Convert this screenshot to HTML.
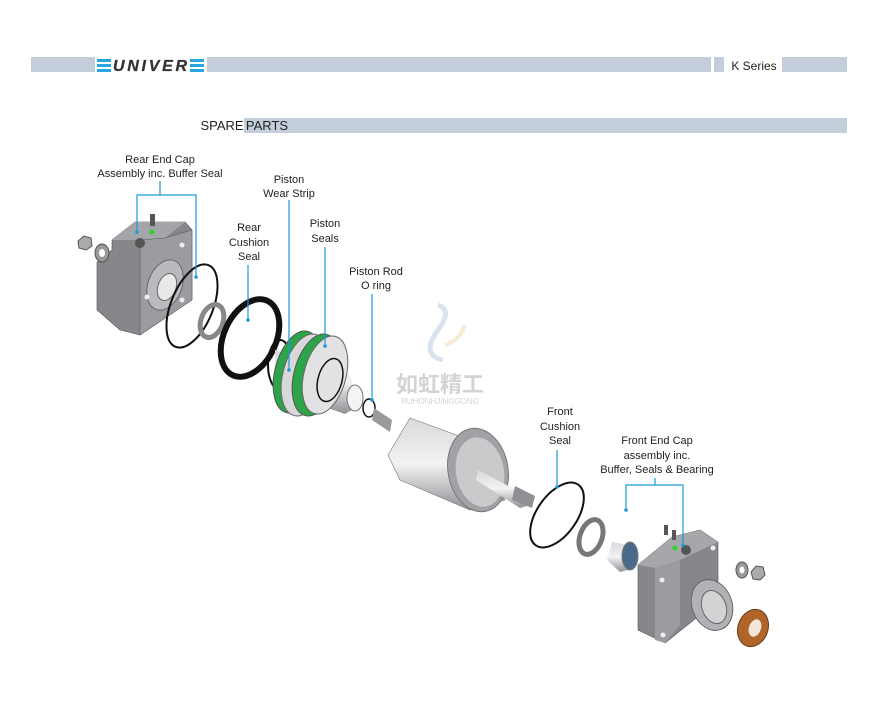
<!DOCTYPE html>
<html><head><meta charset="utf-8">
<style>
html,body{margin:0;padding:0;background:#fff;}
body{width:876px;height:702px;position:relative;overflow:hidden;font-family:"Liberation Sans","Noto Sans CJK SC",sans-serif;}
svg text{font-family:"Liberation Sans","Noto Sans CJK SC",sans-serif;font-size:11px;fill:#222;text-anchor:middle;}
</style></head><body>
<svg width="876" height="702" viewBox="0 0 876 702" xmlns="http://www.w3.org/2000/svg">
<defs>
<linearGradient id="met" x1="0" y1="0" x2="0" y2="1"><stop offset="0" stop-color="#d8d9db"/><stop offset="0.5" stop-color="#f2f2f3"/><stop offset="1" stop-color="#8e9093"/></linearGradient>
</defs>
<rect x="31" y="57" width="64" height="15" fill="#c3ceda"/>
<rect x="207" y="57" width="504" height="15" fill="#c3ceda"/>
<rect x="714" y="57" width="10" height="15" fill="#c3ceda"/>
<rect x="782" y="57" width="65" height="15" fill="#c3ceda"/>
<rect x="97" y="59" width="14" height="3" fill="#29a6e0"/><rect x="97" y="64" width="14" height="3" fill="#29a6e0"/><rect x="97" y="69" width="14" height="3" fill="#29a6e0"/>
<rect x="190" y="59" width="14" height="3" fill="#29a6e0"/><rect x="190" y="64" width="14" height="3" fill="#29a6e0"/><rect x="190" y="69" width="14" height="3" fill="#29a6e0"/>
<text x="150" y="71" style="font-size:16px;font-weight:bold;font-style:italic;fill:#333;stroke:#333;stroke-width:0.3" textLength="74">UNIVER</text>
<text x="754" y="70" style="font-size:12px">K Series</text>
<rect x="244" y="118" width="603" height="15" fill="#c3ceda"/>
<text x="222" y="130" style="font-size:13px">SPARE</text>
<text x="267" y="130" style="font-size:13px">PARTS</text>

<text x="160" y="163">Rear End Cap</text>
<text x="160" y="177">Assembly inc. Buffer Seal</text>
<text x="289" y="183">Piston</text><text x="289" y="197">Wear Strip</text>
<text x="249" y="231">Rear</text><text x="249" y="246">Cushion</text><text x="249" y="260">Seal</text>
<text x="325" y="227">Piston</text><text x="325" y="242">Seals</text>
<text x="376" y="275">Piston Rod</text><text x="376" y="289">O ring</text>
<text x="560" y="415">Front</text><text x="560" y="430">Cushion</text><text x="560" y="444">Seal</text>
<text x="657" y="444">Front End Cap</text><text x="657" y="459">assembly inc.</text><text x="657" y="473">Buffer, Seals &amp; Bearing</text>

<g opacity="0.25">
<path d="M438 305 q15 5 0 25 q-18 25 5 30" stroke="#6d90c0" stroke-width="5" fill="none"/>
<path d="M445 345 q15 -5 20 -20" stroke="#e0b050" stroke-width="4" fill="none"/>
<text x="440" y="392" style="font-size:22px;font-weight:bold;fill:#555">如虹精工</text>
<text x="440" y="404" style="font-size:8px;fill:#555">RUHONHJINGGONG</text>
</g>

<g>
<polygon points="97,262 112,250 112,240 135,222 185,222 192,230 192,300 140,335 120,330 97,310" fill="#85878a" stroke="#555" stroke-width="0.6"/>
<polygon points="112,240 135,222 185,222 165,238 140,240" fill="#a3a5a8"/>
<polygon points="140,240 165,238 192,230 192,300 140,335" fill="#9a9c9f" stroke="#555" stroke-width="0.5"/>
<ellipse cx="165" cy="285" rx="17" ry="26" transform="rotate(20 165 285)" fill="#b8babd" stroke="#666"/>
<ellipse cx="167" cy="287" rx="9" ry="14" transform="rotate(20 167 287)" fill="#e8e8e9" stroke="#666"/>
<circle cx="140" cy="243" r="5" fill="#555"/>
<rect x="150" y="214" width="5" height="12" fill="#555"/>
<circle cx="152" cy="232" r="2.5" fill="#3c3"/>
<circle cx="147" cy="297" r="2.5" fill="#eee"/><circle cx="182" cy="245" r="2.5" fill="#eee"/><circle cx="182" cy="300" r="2.5" fill="#eee"/>
</g>
<polygon points="78,241 84,236 91,238 92,246 86,250 79,248" fill="#aaa" stroke="#555"/>
<ellipse cx="102" cy="253" rx="7" ry="9" fill="#999" stroke="#555"/><ellipse cx="102" cy="253" rx="3" ry="4" fill="#fff"/>

<ellipse cx="192" cy="306" rx="21" ry="44" transform="rotate(22 192 306)" fill="none" stroke="#111" stroke-width="2"/>
<ellipse cx="212" cy="321" rx="11" ry="17" transform="rotate(20 212 321)" fill="none" stroke="#888" stroke-width="5"/>
<ellipse cx="250" cy="338" rx="26" ry="41" transform="rotate(25 250 338)" fill="none" stroke="#111" stroke-width="6"/>

<polygon points="275,350 350,375 360,405 345,414 275,390" fill="url(#met)"/>
<ellipse cx="280" cy="365" rx="12" ry="25" fill="none" stroke="#111" stroke-width="2"/>
<ellipse cx="297" cy="372" rx="22" ry="42" transform="rotate(15 297 372)" fill="#2da44a" stroke="#555"/>
<ellipse cx="305" cy="375" rx="22" ry="42" transform="rotate(15 305 375)" fill="#d8d8da" stroke="#666"/>
<ellipse cx="316" cy="375" rx="22" ry="42" transform="rotate(15 316 375)" fill="#2da44a" stroke="#555"/>
<ellipse cx="325" cy="375" rx="21" ry="40" transform="rotate(15 325 375)" fill="#e2e2e4" stroke="#666"/>
<ellipse cx="330" cy="380" rx="12" ry="22" transform="rotate(15 330 380)" fill="none" stroke="#111" stroke-width="1.5"/>
<ellipse cx="355" cy="398" rx="8" ry="13" fill="#f4f4f4" stroke="#777"/>
<ellipse cx="369" cy="408" rx="6" ry="9" fill="none" stroke="#111" stroke-width="1.5"/>

<polygon points="374,408 392,420 390,432 372,420" fill="#999"/>
<polygon points="410,418 470,440 505,500 470,510 400,480 388,455" fill="url(#met)" stroke="#777" stroke-width="0.6"/>
<ellipse cx="478" cy="470" rx="30" ry="42" transform="rotate(-10 478 470)" fill="#a0a2a5" stroke="#777"/>
<ellipse cx="480" cy="472" rx="24" ry="35" transform="rotate(-10 480 472)" fill="#c9cacc"/>
<polygon points="478,470 520,492 530,505 520,508 476,480" fill="url(#met)"/>
<polygon points="515,486 535,496 532,508 512,500" fill="#8e9093"/>

<ellipse cx="557" cy="515" rx="20" ry="37" transform="rotate(35 557 515)" fill="none" stroke="#111" stroke-width="2"/>
<ellipse cx="591" cy="537" rx="11" ry="18" transform="rotate(20 591 537)" fill="none" stroke="#777" stroke-width="5"/>
<polygon points="612,542 628,545 635,568 620,572 607,560" fill="url(#met)"/>
<ellipse cx="630" cy="556" rx="8" ry="14" fill="#4a6a8a" stroke="#777"/>

<polygon points="638,565 672,537 700,530 718,542 718,595 700,615 665,643 638,630" fill="#85878a" stroke="#555" stroke-width="0.6"/>
<polygon points="638,565 672,537 700,530 718,542 680,560 655,568" fill="#a5a7aa"/>
<polygon points="655,568 680,560 680,625 665,643 655,640" fill="#9a9c9f"/>
<ellipse cx="712" cy="605" rx="20" ry="26" transform="rotate(-20 712 605)" fill="#b0b2b5" stroke="#666"/>
<ellipse cx="714" cy="607" rx="12" ry="17" transform="rotate(-20 714 607)" fill="#d2d3d5" stroke="#666"/>
<circle cx="686" cy="550" r="5" fill="#555"/><circle cx="675" cy="548" r="2.5" fill="#3c3"/>
<rect x="664" y="525" width="4" height="10" fill="#555"/><rect x="672" y="530" width="4" height="10" fill="#555"/>
<circle cx="662" cy="580" r="2.5" fill="#eee"/><circle cx="663" cy="635" r="2.5" fill="#eee"/><circle cx="713" cy="548" r="2.5" fill="#eee"/>
<ellipse cx="742" cy="570" rx="6" ry="8" fill="#999" stroke="#555"/><ellipse cx="742" cy="570" rx="2.5" ry="3.5" fill="#fff"/>
<polygon points="751,572 756,566 763,567 765,575 760,580 753,579" fill="#aaa" stroke="#555"/>
<ellipse cx="753" cy="628" rx="15" ry="19" transform="rotate(20 753 628)" fill="#b0642a" stroke="#6a3a15"/>
<ellipse cx="755" cy="628" rx="6" ry="9" transform="rotate(20 755 628)" fill="#f3e6d8"/>

<g stroke="#1c9ad6" stroke-width="1.2" fill="none">
<path d="M160 181 V195 M137 232 V195 H196 V277"/>
<path d="M289 200 V370"/>
<path d="M248 265 V320"/>
<path d="M325 247 V346"/>
<path d="M372 294 V400"/>
<path d="M557 450 V487"/>
<path d="M655 478 V485 M626 510 V485 H683 V545"/>
</g>
<g fill="#1c9ad6"><circle cx="137" cy="232" r="1.8"/><circle cx="196" cy="277" r="1.8"/><circle cx="289" cy="370" r="1.8"/><circle cx="248" cy="320" r="1.8"/><circle cx="325" cy="346" r="1.8"/><circle cx="372" cy="400" r="1.8"/><circle cx="557" cy="487" r="1.8"/><circle cx="626" cy="510" r="1.8"/><circle cx="683" cy="545" r="1.8"/></g>
</svg>
</body></html>
